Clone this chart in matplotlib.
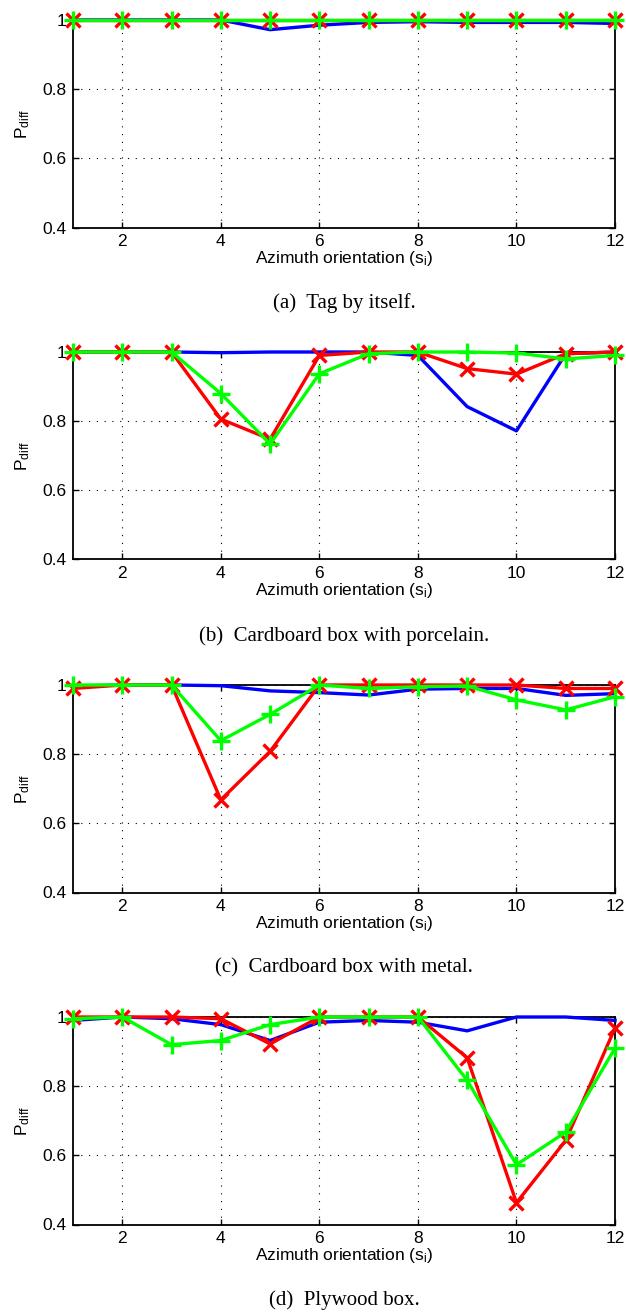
import matplotlib
matplotlib.use("Agg")
import matplotlib.pyplot as plt

plt.rcParams["font.family"] = ["Liberation Sans", "DejaVu Sans"]
plt.rcParams["mathtext.default"] = "regular"

W, H = 626, 1313

# azimuth orientation index
orient = list(range(1, 13))

# (a) Tag by itself
a_blue  = [1.0, 1.0, 1.0, 1.0, 0.972, 0.985, 0.993, 0.995, 0.993, 0.993, 0.993, 0.99]
a_red   = [1.0] * 12
a_green = [1.0] * 12

# (b) Cardboard box with porcelain
b_blue  = [1.0, 1.0, 1.0, 0.998, 1.0, 1.0, 1.0, 0.99, 0.842, 0.772, 0.995, 1.0]
b_red   = [1.0, 1.0, 1.0, 0.806, 0.748, 0.99, 1.0, 1.0, 0.952, 0.936, 0.995, 1.0]
b_green = [1.0, 1.0, 1.0, 0.88, 0.734, 0.937, 0.995, 1.0, 1.0, 0.997, 0.98, 0.99]

# (c) Cardboard box with metal
c_blue  = [0.997, 1.0, 1.0, 0.998, 0.983, 0.978, 0.971, 0.988, 0.99, 0.99, 0.97, 0.975]
c_red   = [0.99, 1.0, 1.0, 0.668, 0.808, 1.0, 1.0, 1.0, 1.0, 1.0, 0.99, 0.99]
c_green = [1.0, 1.0, 1.0, 0.839, 0.915, 1.0, 0.99, 0.995, 0.997, 0.957, 0.928, 0.966]

# (d) Plywood box
d_blue  = [0.99, 1.0, 0.995, 0.978, 0.932, 0.985, 0.99, 0.985, 0.96, 1.0, 1.0, 0.99]
d_red   = [1.0, 1.0, 1.0, 0.995, 0.922, 1.0, 1.0, 1.0, 0.882, 0.463, 0.643, 0.968]
d_green = [0.995, 1.0, 0.92, 0.932, 0.978, 1.0, 1.0, 1.0, 0.817, 0.573, 0.667, 0.91]

panels = [
    ("(a)  Tag by itself.", a_blue, a_red, a_green),
    ("(b)  Cardboard box with porcelain.", b_blue, b_red, b_green),
    ("(c)  Cardboard box with metal.", c_blue, c_red, c_green),
    ("(d)  Plywood box.", d_blue, d_red, d_green),
]

yticks = [0.4, 0.6, 0.8, 1.0]
ytick_labels = ["0.4", "0.6", "0.8", "1"]
xticks = [2, 4, 6, 8, 10, 12]

# pixel layout: axes top / bottom and caption centre
ax_left, ax_right = 73, 615
ax_tops = [20, 352, 685, 1017]
ax_h = 207.5
cap_y = [303, 636, 968, 1300]

fig = plt.figure(figsize=(W / 100, H / 100), dpi=100)

for (caption, blue, red, green), top, cy in zip(panels, ax_tops, cap_y):
    ax = fig.add_axes([ax_left / W, 1 - (top + ax_h) / H,
                       (ax_right - ax_left) / W, ax_h / H])
    ax.plot(orient, blue, color="#0000ff", lw=2.4, clip_on=False, zorder=3)
    ax.plot(orient, red, color="#ff0000", lw=2.4, marker="x", ms=10.5, mew=2.4,
            clip_on=False, zorder=4)
    ax.plot(orient, green, color="#00ff00", lw=2.4, marker="+", ms=13, mew=2.4,
            clip_on=False, zorder=5)

    ax.set_xlim(1, 12)
    ax.set_ylim(0.4, 1.0)
    ax.set_xticks(xticks)
    ax.set_yticks(yticks)
    ax.set_yticklabels(ytick_labels)
    ax.tick_params(direction="in", top=True, right=True, length=4.5,
                   width=1.0, labelsize=12.5, pad=5)
    ax.grid(True, color="black", linestyle=(0, (1, 6)), linewidth=0.8)
    for s in ax.spines.values():
        s.set_linewidth(1.3)
    ax.set_xlabel("Azimuth orientation (s$_i$)", fontsize=12.5, labelpad=0)
    ax.set_ylabel("P$_{diff}$", fontsize=12.5, labelpad=7)

    fig.text((ax_left + ax_right) / 2 / W, 1 - cy / H, caption,
             ha="center", va="center", fontsize=15,
             family=["Liberation Serif", "DejaVu Serif"])

fig.savefig("out.png", dpi=100, facecolor="white")
